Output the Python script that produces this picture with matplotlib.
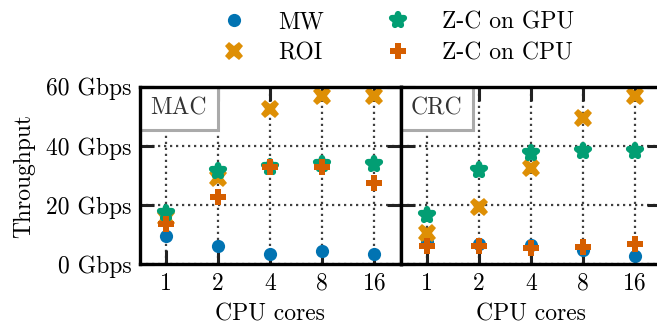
import numpy as np
import matplotlib
matplotlib.use("Agg")
import matplotlib.pyplot as plt
from matplotlib.markers import MarkerStyle
from matplotlib.offsetbox import AnchoredText

plt.rcParams['font.family'] = ['cmr10', 'DejaVu Serif']
plt.rcParams['mathtext.fontset'] = 'cm'
plt.rcParams['axes.unicode_minus'] = False
plt.rcParams['font.size'] = 17

# data
cores = ["1", "2", "4", "8", "16"]
panels = ["MAC", "CRC"]
mw = {"MAC": [9.6, 6.1, 3.6, 4.4, 3.4], "CRC": [7.5, 6.8, 6.4, 4.7, 2.7]}
roi = {"MAC": [15.5, 29.0, 52.4, 56.7, 57.0], "CRC": [10.6, 19.4, 32.6, 49.4, 57.0]}
zc_gpu = {"MAC": [17.2, 31.6, 33.0, 33.8, 34.0], "CRC": [16.8, 31.8, 37.7, 38.3, 38.3]}
zc_cpu = {"MAC": [13.5, 22.8, 33.0, 32.8, 27.5], "CRC": [6.2, 6.2, 5.6, 5.9, 6.8]}
y_ticks = [0, 20, 40, 60]
y_labels = ["0 Gbps", "20 Gbps", "40 Gbps", "60 Gbps"]

c_blue = "#0173b2"
c_orange = "#de8f05"
c_green = "#029e73"
c_red = "#d55e00"

fig = plt.figure(figsize=(6.57, 3.24), dpi=100)
W, H = 657.0, 324.0
ax1 = fig.add_axes([140 / W, (H - 264.3) / H, 260.5 / W, 177.6 / H])
ax2 = fig.add_axes([400.5 / W, (H - 264.3) / H, 260.5 / W, 177.6 / H])

star = MarkerStyle('*', joinstyle='round')
x = np.arange(len(cores))

for ax, name in zip([ax1, ax2], panels):
    ax.plot(x, mw[name], 'o', color=c_blue, markersize=9.5, markeredgewidth=0,
            label="MW", zorder=3)
    ax.plot(x, roi[name], 'X', color=c_orange, markersize=13, markeredgewidth=0,
            label="ROI", zorder=3)
    ax.plot(x, zc_gpu[name], marker=star, linestyle='none', color=c_green,
            markersize=8.5, markeredgewidth=4.5, label="Z-C on GPU", zorder=3)
    ax.plot(x, zc_cpu[name], 'P', color=c_red, markersize=12, markeredgewidth=0,
            label="Z-C on CPU", zorder=3)

    ax.set_xlim(-0.5, len(cores) - 0.5)
    ax.set_ylim(0, 60)
    ax.set_xticks(x)
    ax.set_xticklabels(cores)
    ax.set_yticks(y_ticks)
    ax.set_xlabel("CPU cores", labelpad=6)
    ax.grid(True, color='#404040', linestyle=(0, (1, 1.7)), linewidth=1.6, zorder=1)
    ax.set_axisbelow(True)
    ax.tick_params(direction='in', top=True, right=True, length=10, width=2.2,
                   color='#222222', pad=6)
    for s in ax.spines.values():
        s.set_linewidth(2.4)
        s.set_zorder(5)

    # panel name box in the upper left corner
    at = AnchoredText(name, loc='upper left', borderpad=0, pad=0.45,
                      prop=dict(size=17, color='#333333'), frameon=True)
    at.patch.set_edgecolor('#aaaaaa')
    at.patch.set_linewidth(2.2)
    at.zorder = 4
    ax.add_artist(at)

ax1.set_yticklabels(y_labels)
ax1.set_ylabel("Throughput", labelpad=8)
ax2.set_yticklabels([])

handles, labels = ax1.get_legend_handles_labels()
fig.legend(handles, labels, loc='upper center', ncol=2, frameon=False,
           bbox_to_anchor=(0.597, 1.030), handletextpad=0.86, columnspacing=2.13,
           labelspacing=0.35, fontsize=17)

plt.savefig("out.png", dpi=100)
